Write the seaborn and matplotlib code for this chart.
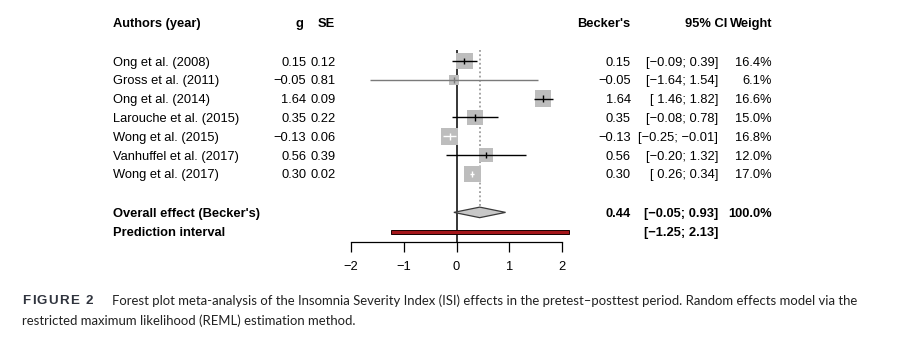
import matplotlib
matplotlib.use("Agg")
import matplotlib.pyplot as plt
from matplotlib.transforms import blended_transform_factory
import numpy as np
import pandas as pd
import seaborn as sns

# ---- data -------------------------------------------------------------
studies = ["Ong et al. (2008)", "Gross et al. (2011)", "Ong et al. (2014)",
           "Larouche et al. (2015)", "Wong et al. (2015)",
           "Vanhuffel et al. (2017)", "Wong et al. (2017)"]
g_vals = [0.15, -0.05, 1.64, 0.35, -0.13, 0.56, 0.30]
se_vals = [0.12, 0.81, 0.09, 0.22, 0.06, 0.39, 0.02]
ci_low = [-0.09, -1.64, 1.46, -0.08, -0.25, -0.20, 0.26]
ci_high = [0.39, 1.54, 1.82, 0.78, -0.01, 1.32, 0.34]
weights = [16.4, 6.1, 16.6, 15.0, 16.8, 12.0, 17.0]

overall_est = 0.44
overall_low = -0.05
overall_high = 0.93
overall_weight = 100.0
pred_low = -1.25
pred_high = 2.13

x_ticks = [-2, -1, 0, 1, 2]

caption_tag = "FIGURE 2"
caption_line1 = ("Forest plot meta-analysis of the Insomnia Severity Index (ISI) effects "
                 "in the pretest\u2013posttest period. Random effects model via the")
caption_line2 = "restricted maximum likelihood (REML) estimation method."

# ---- setup ------------------------------------------------------------
sns.set_theme(style="white")
plt.rcParams["font.family"] = ["Liberation Sans", "DejaVu Sans"]
plt.rcParams["axes.unicode_minus"] = True

W, H = 907, 338
fig = plt.figure(figsize=(W / 100, H / 100), dpi=100)
fig.patch.set_facecolor("white")

# layout in pixels: zero at x=456.5, 52.75 px per unit; first row at y=61, 18.83 px per row
x0_px, x_scale = 456.5, 52.75
y0_px, y_scale = 61.0, 18.83
xlim = (-2.5, 2.5)
ylim = (9.6, -2.5)
left_px = x0_px + xlim[0] * x_scale
width_px = (xlim[1] - xlim[0]) * x_scale
top_px = y0_px + ylim[1] * y_scale
bot_px = y0_px + ylim[0] * y_scale
ax = fig.add_axes([left_px / W, 1 - bot_px / H, width_px / W, (bot_px - top_px) / H])
ax.set_xlim(*xlim)
ax.set_ylim(*ylim)
ax.patch.set_alpha(0)

rows = np.arange(len(studies))
overall_row = 8.04
pred_row = 9.07
header_row = -2.07

df = pd.DataFrame({"study": studies, "g": g_vals, "lo": ci_low, "hi": ci_high,
                   "weight": weights, "row": rows})

# square side in points grows with sqrt(weight) -> area proportional to weight
area_per_pct = 8.7
side_px = np.sqrt(area_per_pct * df["weight"]) / 0.72
half_side = side_px / 2 / x_scale
inside = ((df["g"] - df["lo"]) < half_side) & ((df["hi"] - df["g"]) < half_side)
line_cols = ["white" if ins else "black" for ins in inside]
line_cols[1] = "#7a7a7a"

# reference lines
ax.vlines(0, -0.6, ylim[0], color="black", lw=1.1, zorder=1)
ax.vlines(overall_est, -0.6, overall_row - 0.27, color="#8c8c8c", lw=1.1,
          linestyles=(0, (1.2, 1.6)), zorder=1)

# study squares
wmin, wmax = df["weight"].min(), df["weight"].max()
sns.scatterplot(data=df, x="g", y="row", size="weight",
                sizes=(area_per_pct * wmin, area_per_pct * wmax), size_norm=(wmin, wmax),
                marker="s", color="#bdbdbd", linewidth=0, legend=False, ax=ax, zorder=2)

# confidence intervals and point ticks
ax.hlines(df["row"], df["lo"], df["hi"], colors=line_cols, lw=1.0, zorder=3)
ax.scatter(df["g"], df["row"], marker="|", s=22, c=line_cols, linewidths=1.0, zorder=4)

# pooled diamond
dh = 0.28
ax.fill([overall_low, overall_est, overall_high, overall_est],
        [overall_row, overall_row - dh, overall_row, overall_row + dh],
        facecolor="#c8c8c8", edgecolor="#3a3a3a", lw=0.9, zorder=3)

# prediction interval
ax.barh(pred_row, pred_high - pred_low, left=pred_low, height=0.2,
        color="#a4161a", edgecolor="#1a0000", lw=0.7, zorder=3)

# axis
for side in ["top", "left", "right"]:
    ax.spines[side].set_visible(False)
ax.spines["bottom"].set_bounds(x_ticks[0], x_ticks[-1])
ax.spines["bottom"].set_color("black")
ax.spines["bottom"].set_linewidth(0.9)
ax.set_xticks(x_ticks)
ax.set_xticklabels([f"{t:d}".replace("-", "\u2212") for t in x_ticks])
ax.set_yticks([])
ax.set_xlabel("")
ax.set_ylabel("")
ax.tick_params(axis="x", direction="out", length=7, width=0.9, pad=7,
               labelsize=9.3, colors="black", bottom=True)

# ---- text columns -----------------------------------------------------
tr = blended_transform_factory(fig.transFigure, ax.transData)
fs = 9.3
text_shift = 0.08  # nudge so glyph centres sit on the row centre


def put(xpx, row, s, ha="left", bold=False):
    ax.text(xpx / W, row + text_shift, s, transform=tr, ha=ha, va="center", fontsize=fs,
            fontweight="bold" if bold else "normal", color="black", clip_on=False)


def fmt(v):
    return f"{v:.2f}".replace("-", "\u2212")


def fmt_ci(lo, hi):
    a = fmt(lo) if lo < 0 else " " + fmt(lo)
    return f"[{a}; {fmt(hi)}]"


put(113, header_row, "Authors (year)", bold=True)
put(303, header_row, "g", ha="right", bold=True)
put(335, header_row, "SE", ha="right", bold=True)
put(630, header_row, "Becker's", ha="right", bold=True)
put(727, header_row, "95% CI", ha="right", bold=True)
put(772, header_row, "Weight", ha="right", bold=True)

for i in range(len(studies)):
    put(113, i, studies[i])
    put(306.5, i, fmt(g_vals[i]), ha="right")
    put(336, i, fmt(se_vals[i]), ha="right")
    put(631, i, fmt(g_vals[i]), ha="right")
    put(718, i, fmt_ci(ci_low[i], ci_high[i]), ha="right")
    put(772, i, f"{weights[i]:.1f}%", ha="right")

put(113, overall_row, "Overall effect (Becker's)", bold=True)
put(631, overall_row, fmt(overall_est), ha="right", bold=True)
put(718, overall_row, fmt_ci(overall_low, overall_high), ha="right", bold=True)
put(772, overall_row, f"{overall_weight:.1f}%", ha="right", bold=True)
put(113, pred_row, "Prediction interval", bold=True)
put(718, pred_row, fmt_ci(pred_low, pred_high), ha="right", bold=True)

# ---- caption ----------------------------------------------------------
cap_font = ["Lato", "DejaVu Sans"]
renderer = fig.canvas.get_renderer()

# letter-spaced bold figure tag
tag_x = 22.5
tag_track = 1.3  # extra px between letters
for ch in caption_tag:
    t = fig.text(tag_x / W, 1 - 300.5 / H, ch, fontsize=9.6, fontweight="bold",
                 color="#30343e", family=["Liberation Sans", "DejaVu Sans"],
                 va="center", ha="left")
    w = t.get_window_extent(renderer=renderer).width
    tag_x += w + tag_track

fig.text(111.5 / W, 1 - 300.5 / H, caption_line1, fontsize=9.42, color="#222222",
         family=cap_font, va="center", ha="left")
fig.text(22 / W, 1 - 320.5 / H, caption_line2, fontsize=9.42, color="#222222",
         family=cap_font, va="center", ha="left")

fig.savefig("out.png", dpi=100, facecolor="white")
